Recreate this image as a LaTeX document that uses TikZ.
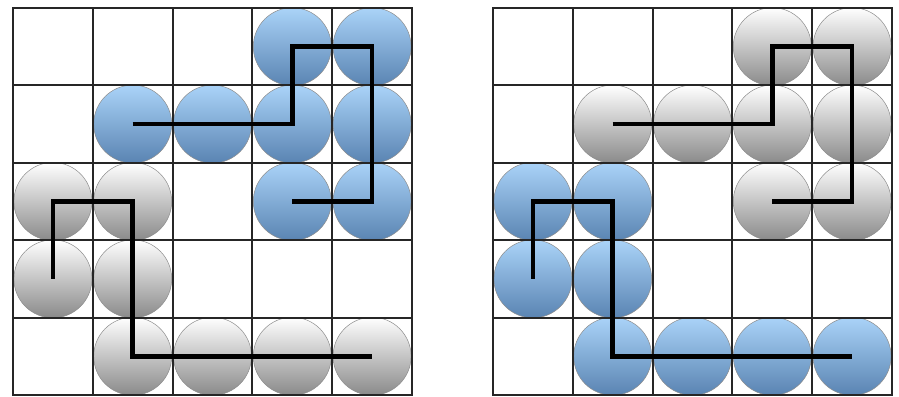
\documentclass[tikz,border=0pt]{standalone}
\usepackage{xcolor}
\usetikzlibrary{positioning}
\definecolor{balltop}{HTML}{AAD3F8}
\definecolor{ballbot}{HTML}{5A84B2}
\definecolor{greybot}{HTML}{8A8A8A}

\begin{document}
\begin{tikzpicture}[x=79.8pt, y=-77.4pt,
  cell/.style={draw=black!85, line width=1.9pt},
  ball/.style={circle, draw=black!45, line width=0.5pt, minimum size=78pt, inner sep=0pt},
  bball/.style={ball, top color=balltop, bottom color=ballbot},
  gball/.style={ball, top color=white, bottom color=greybot},
  chain/.style={line width=4.6pt, line join=miter}]
\useasboundingbox (0,0) rectangle (11.266,5.129);

% left board: blue snake on top, grey snake below
\begin{scope}[shift={(0.163,0.103)}]
\foreach \c/\r in {4/1,5/1,2/2,3/2,4/2,5/2,4/3,5/3}
  \node[bball] (a\c\r) at (\c-0.5,\r-0.5) {};
\foreach \c/\r in {1/3,2/3,1/4,2/4,2/5,3/5,4/5,5/5}
  \node[gball] (a\c\r) at (\c-0.5,\r-0.5) {};
\draw[cell] (0,0) rectangle (5,5);
\foreach \i in {1,...,4} {
  \draw[cell] (\i,0) -- (\i,5);
  \draw[cell] (0,\i) -- (5,\i);
}
\end{scope}
\draw[chain] (a22.center) -- (a42.center) -- (a41.center) -- (a51.center) -- (a53.center) -- (a43.center);
\draw[chain] (a14.center) -- (a13.center) -- (a23.center) -- (a25.center) -- (a55.center);

% right board: same snakes, colours swapped
\begin{scope}[shift={(6.178,0.103)}]
\foreach \c/\r in {4/1,5/1,2/2,3/2,4/2,5/2,4/3,5/3}
  \node[gball] (b\c\r) at (\c-0.5,\r-0.5) {};
\foreach \c/\r in {1/3,2/3,1/4,2/4,2/5,3/5,4/5,5/5}
  \node[bball] (b\c\r) at (\c-0.5,\r-0.5) {};
\draw[cell] (0,0) rectangle (5,5);
\foreach \i in {1,...,4} {
  \draw[cell] (\i,0) -- (\i,5);
  \draw[cell] (0,\i) -- (5,\i);
}
\end{scope}
\draw[chain] (b22.center) -- (b42.center) -- (b41.center) -- (b51.center) -- (b53.center) -- (b43.center);
\draw[chain] (b14.center) -- (b13.center) -- (b23.center) -- (b25.center) -- (b55.center);
\end{tikzpicture}
\end{document}
